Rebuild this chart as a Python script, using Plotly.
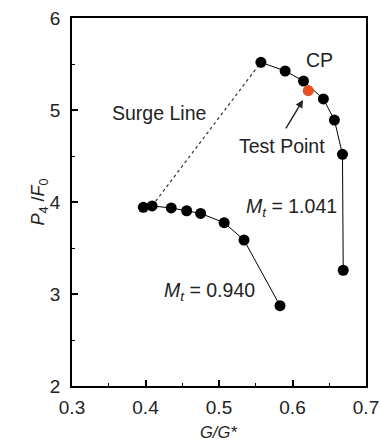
import plotly.graph_objects as go

# Mt = 0.940 speed line
g_940 = [0.397, 0.409, 0.435, 0.456, 0.475, 0.507, 0.534, 0.583]
p_940 = [3.942, 3.957, 3.935, 3.905, 3.876, 3.775, 3.587, 2.873]

# Mt = 1.041 speed line
g_1041 = [0.557, 0.590, 0.615, 0.642, 0.657, 0.668, 0.669]
p_1041 = [5.518, 5.424, 5.315, 5.120, 4.891, 4.518, 3.258]

# Test point
g_test = [0.6215]
p_test = [5.21]

# Surge line endpoints
g_surge = [0.409, 0.557]
p_surge = [3.957, 5.518]

x_ticks = [0.3, 0.4, 0.5, 0.6, 0.7]
y_ticks = [2, 3, 4, 5, 6]

FONT = "Liberation Sans, Arial, sans-serif"
TXT = "#222222"

fig = go.Figure()
fig.add_trace(go.Scatter(x=g_surge, y=p_surge, mode="lines",
                         line=dict(color="#333333", width=1.2, dash="dot"),
                         showlegend=False, hoverinfo="skip"))
fig.add_trace(go.Scatter(x=g_940, y=p_940, mode="lines+markers",
                         line=dict(color="black", width=1),
                         marker=dict(color="black", size=11),
                         showlegend=False))
fig.add_trace(go.Scatter(x=g_1041, y=p_1041, mode="lines+markers",
                         line=dict(color="black", width=1),
                         marker=dict(color="black", size=11),
                         showlegend=False))
fig.add_trace(go.Scatter(x=g_test, y=p_test, mode="markers",
                         marker=dict(color="#E8511F", size=11),
                         showlegend=False))

ann_font = dict(family=FONT, size=19.5, color=TXT)
fig.add_annotation(x=0.6374, y=5.543, text="CP", showarrow=False, font=ann_font)
fig.add_annotation(x=0.4177, y=4.967, text="Surge Line", showarrow=False, font=ann_font)
fig.add_annotation(x=0.5857, y=4.612, text="Test Point", showarrow=False, font=ann_font)
fig.add_annotation(x=0.6143, y=5.109, ax=0.5898, ay=4.783, axref="x", ayref="y",
                   text="", showarrow=True, arrowhead=2, arrowsize=1.1,
                   arrowwidth=1.4, arrowcolor=TXT)
fig.add_annotation(x=0.5986, y=3.935, text="<i>M<sub>t</sub></i> = 1.041",
                   showarrow=False, font=ann_font)
fig.add_annotation(x=0.4864, y=3.03, text="<i>M<sub>t</sub></i> = 0.940",
                   showarrow=False, font=ann_font)

# axis titles
fig.add_annotation(xref="paper", yref="paper", x=0.4985, y=-0.125, yanchor="middle",
                   text="<i>G/G*</i>", showarrow=False, borderpad=0,
                   font=dict(family=FONT, size=16.5, color=TXT))
fig.add_annotation(xref="paper", yref="paper", x=-0.1565, y=0.5,
                   text="<i>P</i><sub>4</sub> /<i>F</i><sub>0</sub>", textangle=-90,
                   showarrow=False, font=dict(family=FONT, size=18, color=TXT))

axis_common = dict(
    showline=True, linecolor="black", linewidth=1.6, mirror=True,
    ticks="inside", ticklen=6, tickwidth=1.5, tickcolor="black",
    showgrid=False, zeroline=False, automargin=False,
    tickfont=dict(family=FONT, size=19, color=TXT),
)

fig.update_xaxes(range=[0.3, 0.7], tickvals=x_ticks,
                 ticktext=[f"{v:.1f}" for v in x_ticks],
                 ticklabelstandoff=3,
                 minor=dict(dtick=0.05, ticks="inside", ticklen=3, tickwidth=1.3,
                            tickcolor="black", showgrid=False),
                 **axis_common)
fig.update_yaxes(range=[2, 6], tickvals=y_ticks,
                 ticktext=[str(v) for v in y_ticks],
                 ticklabelstandoff=6,
                 minor=dict(dtick=0.5, ticks="inside", ticklen=3, tickwidth=1.3,
                            tickcolor="black", showgrid=False),
                 **axis_common)

fig.update_layout(width=380, height=444,
                  margin=dict(l=72, r=14, t=18, b=58),
                  plot_bgcolor="white", paper_bgcolor="white")

fig.write_html("out.html")
